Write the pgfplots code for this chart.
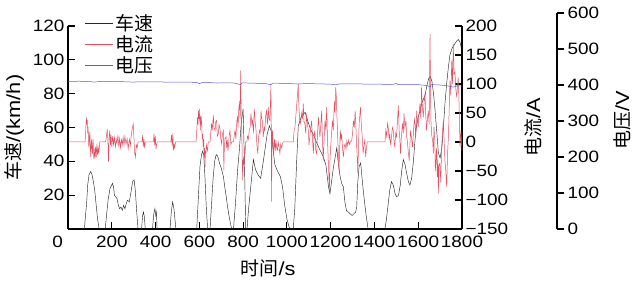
\documentclass[border=0pt]{standalone}
\usepackage{fontspec}
\setmainfont[FakeStretch=1.15]{Liberation Sans}
\newfontfamily\cjk{Noto Sans CJK SC}
\usepackage{pgfplots}
\pgfplotsset{compat=1.18}
\definecolor{curcol}{RGB}{226,80,100}
\definecolor{volcol}{RGB}{90,90,200}
\definecolor{spdcol}{RGB}{40,40,40}
\newcommand{\tickfont}{\fontsize{16.5}{18}\selectfont}
\newcommand{\labfont}{\fontsize{19}{21}\selectfont}
\pgfplotsset{
  common/.style={
    scale only axis,
    axis line style={line width=1.1pt,-},
    tick style={line width=1.1pt,black},
    major tick length=7bp,
    tick label style={font=\tickfont},
    /pgf/number format/assume math mode=true,
  }
}
\begin{document}
\begin{tikzpicture}
\useasboundingbox (0,0) rectangle (636bp,281bp);
% ---------- speed axis ----------
\begin{axis}[common,
  at={(68bp,52bp)}, anchor=south west,
  width=394bp, height=203bp,
  xmin=0, xmax=1800, ymin=0, ymax=120,
  axis x line*=bottom, axis y line*=left,
  tick align=inside,
  xtick={0,200,...,1800},
  xticklabels={\makebox[0pt][r]{0\kern5bp},200,400,600,800,1000,1200,1400,1600,1800},
  xticklabel style={yshift=-3.5bp},
  ytick={20,40,...,120},
  xlabel={{\cjk 时间}/s},
  ylabel={{\cjk 车速}/(km/h)},
  every axis x label/.style={at={(axis description cs:0.508,-0.192)},anchor=center,font=\labfont},
  every axis y label/.style={at={(axis description cs:-0.137,0.5)},rotate=90,anchor=center,font=\labfont},
  legend style={at={(axis description cs:0.035,1.075)}, anchor=north west,
    draw=none, fill=none, font=\cjk\labfont, row sep=-0.5bp,
    /tikz/every even column/.append style={column sep=2bp}},
  legend cell align=left,
  legend image code/.code={\draw[#1] (0bp,0bp) -- (28bp,0bp);},
]
\addplot[spdcol, line width=0.45pt] coordinates {
(0,0)(75,0)(80,8)(85,15)(90,26)(96,32)(104,34)(110,32)(116,28)(122,23)(128,15)(135,6)(142,0)
(170,0)(176,8)(183,17)(192,24)(203,27)(208,25)(212,20)(218,19)(224,18)(230,14)(236,12)(242,13)(248,11)(254,14)(260,12)(266,15)(272,17)(280,16)(288,22)(295,28)(302,29)(308,22)(314,10)(320,0)
(336,0)(341,8)(345,10)(349,7)(353,0)(386,0)(392,9)(397,12)(401,8)(404,10)(407,0)(466,0)(472,10)(478,16)(484,12)(490,4)(493,0)
(588,0)(593,12)(598,25)(603,37)(610,44)(615,46)(620,44)(626,30)(632,12)(638,0)(649,0)(656,15)(663,30)(670,40)(677,44)(684,43)(692,39)(700,36)(710,31)(716,25)(722,20)(728,14)(734,9)(741,4)(748,0)
(756,0)(765,15)(775,35)(783,47)(791,62)(800,71)(806,40)(812,0)(818,0)(825,12)(835,25)(847,41)(857,35)(868,32)(880,30)(890,38)(900,47)(910,56)(920,61)(928,58)(936,48)(945,38)(958,34)(970,31)(980,25)(990,14)(1000,6)(1008,2)(1014,0)
(1029,0)(1036,12)(1044,38)(1052,61)(1065,66)(1083,69)(1095,64)(1108,59)(1120,56)(1136,51)(1150,47)(1165,43)(1178,38)(1190,25)(1197,21)(1204,28)(1212,36)(1220,42)(1228,48)(1234,40)(1242,32)(1250,27)(1258,25)(1265,16)(1272,11)(1280,10)(1289,9)(1298,8)(1306,9)(1314,10)(1319,13)(1324,28)(1330,37)(1337,39)(1345,28)(1352,19)(1362,8)(1371,0)
(1448,0)(1455,6)(1462,14)(1470,23)(1478,28)(1486,26)(1494,21)(1502,19)(1510,20)(1518,26)(1525,35)(1532,41)(1540,38)(1547,33)(1555,28)(1562,26)(1570,30)(1578,40)(1585,52)(1592,61)(1600,66)(1608,70)(1618,75)(1631,79)(1640,85)(1648,89)(1656,90)(1663,87)(1670,80)(1677,70)(1685,57)(1692,45)(1700,42)(1708,48)(1715,60)(1722,74)(1730,86)(1738,96)(1745,103)(1755,107)(1765,109)(1775,111)(1784,112)(1792,110)(1800,105)
};
\addlegendentry{车速}
\addlegendimage{curcol, line width=0.5pt}
\addlegendentry{电流}
\addlegendimage{volcol, line width=0.5pt}
\addlegendentry{电压}
\end{axis}
% ---------- current axis ----------
\begin{axis}[common,
  at={(68bp,52bp)}, anchor=south west,
  width=394bp, height=203bp,
  xmin=0, xmax=1800, ymin=-150, ymax=200,
  axis x line=none, axis y line*=right,
  tick align=inside,
  ytick={-150,-100,...,200},
  yticklabels={−150,−100,−50,0,50,100,150,200},
  ylabel={{\cjk 电流}/A},
  every axis y label/.style={at={(axis description cs:1.18,0.5)},rotate=90,anchor=center,font=\labfont},
]
\addplot[curcol, line width=0.5pt] coordinates {
(0,0)(78,0)(81,20)(84,43)(86,30)(88,38)(90,15)(92,26)(94,-5)(96,-9)(98,10)(100,18)(102,-10)(104,-26)(106,0)(108,3)(110,-15)(112,-20)(114,5)(116,-5)(118,-30)(120,-12)(123,-28)(126,-8)(129,-26)(132,-3)(135,-22)(138,-10)(141,-20)(145,0)
(170,0)(173,3)(176,11)(179,23)(182,5)(185,-34)(188,8)(191,20)(194,-5)(197,12)(200,-8)(204,10)(208,-4)(212,8)(216,-10)(220,5)(224,-3)(228,12)(232,-8)(236,6)(240,-10)(244,4)(248,-5)(252,8)(256,-6)(260,10)(265,-4)(270,6)(275,-12)(280,5)(285,-6)(290,15)(295,26)(298,31)(301,10)(304,-17)(308,-26)(312,-5)(316,-10)(320,0)
(338,0)(341,12)(344,-8)(347,5)(350,-10)(353,0)
(390,0)(393,14)(396,-6)(399,10)(402,-12)(405,-4)(408,0)
(470,0)(473,12)(476,-8)(479,15)(482,-14)(485,-5)(488,-10)(491,0)
(585,0)(588,20)(592,43)(594,30)(596,54)(598,40)(600,57)(602,35)(604,45)(606,20)(608,45)(611,31)(613,5)(615,10)(618,-9)(620,5)(622,-26)(624,-10)(626,-43)(628,-15)(630,-20)(632,-5)(634,-9)(637,-15)(641,0)
(649,0)(652,15)(656,32)(659,20)(664,46)(667,25)(672,20)(675,35)(679,37)(682,10)(687,14)(690,30)(695,22)(698,5)(702,-3)(706,15)(710,20)(712,-49)(714,-14)(717,5)(722,9)(725,-10)(728,3)(731,-15)(733,-8)(736,10)(740,20)(744,-5)(748,0)
(756,0)(759,10)(763,20)(767,5)(770,30)(774,45)(777,25)(780,55)(783,71)(786,40)(789,123)(791,50)(794,20)(796,-30)(798,-66)(801,-25)(804,-40)(807,-10)(809,-20)(812,0)(817,0)
(820,10)(824,5)(828,20)(832,25)(836,49)(840,30)(843,37)(847,15)(851,57)(855,35)(859,20)(863,-5)(867,-20)(870,5)(874,20)(878,15)(882,54)(885,40)(888,37)(892,9)(896,25)(899,20)(903,45)(907,54)(911,30)(915,60)(918,40)(922,37)(925,70)(927,100)(929,10)(930,-103)(932,0)(934,20)(937,-5)(940,-20)(943,5)(947,-15)(950,3)(953,-10)(957,-14)(960,0)(964,-9)(968,-20)(972,-3)(976,-10)(980,-3)(983,0)
(1029,0)(1033,20)(1037,26)(1041,45)(1044,60)(1048,80)(1052,100)(1054,70)(1056,54)(1060,30)(1064,37)(1068,50)(1071,40)(1075,66)(1078,35)(1082,32)(1086,15)(1090,49)(1094,30)(1098,20)(1101,-5)(1105,9)(1109,25)(1113,37)(1117,5)(1121,-20)(1124,10)(1128,20)(1132,-15)(1136,-20)(1140,15)(1144,43)(1148,20)(1151,9)(1155,30)(1159,54)(1162,10)(1166,-32)(1170,5)(1174,37)(1178,20)(1182,60)(1185,10)(1189,-32)(1192,-60)(1194,-89)(1197,-30)(1200,-9)(1204,15)(1208,37)(1212,20)(1217,71)(1220,50)(1223,94)(1226,77)(1229,40)(1232,9)(1235,-20)(1238,-49)(1241,-10)(1244,20)(1247,5)(1250,14)(1254,-10)(1258,-26)(1262,-8)(1266,-3)(1270,-12)(1274,2)(1278,-6)(1282,3)(1286,-4)(1290,0)(1296,2)(1300,15)(1304,37)(1308,25)(1312,54)(1316,20)(1319,-9)(1322,-30)(1324,-54)(1327,-10)(1330,32)(1333,45)(1336,60)(1339,37)(1342,20)(1345,5)(1348,-20)(1352,-5)(1356,3)(1360,-26)(1364,-8)(1367,0)
(1448,0)(1452,20)(1456,10)(1460,32)(1463,25)(1467,5)(1470,14)(1474,-5)(1478,9)(1482,25)(1486,20)(1490,0)(1493,-9)(1497,15)(1501,9)(1505,35)(1509,63)(1513,20)(1516,5)(1519,-20)(1523,10)(1528,32)(1532,15)(1535,49)(1539,25)(1544,37)(1547,10)(1550,3)(1554,-15)(1559,-32)(1562,-5)(1565,20)(1570,5)(1574,-9)(1578,15)(1582,40)(1585,32)(1589,10)(1593,54)(1597,35)(1600,26)(1604,50)(1608,66)(1612,40)(1615,94)(1619,60)(1623,43)(1627,70)(1631,83)(1634,50)(1638,20)(1642,40)(1646,54)(1650,30)(1652,120)(1654,186)(1656,90)(1658,37)(1662,10)(1666,3)(1669,-20)(1672,26)(1676,0)(1678,-50)(1681,-32)(1684,-10)(1687,-60)(1690,-30)(1692,-89)(1695,-40)(1699,-37)(1703,-70)(1707,-9)(1711,20)(1715,37)(1718,5)(1722,-32)(1726,-50)(1730,-77)(1734,-20)(1738,9)(1741,50)(1745,106)(1749,80)(1753,140)(1757,100)(1760,169)(1764,117)(1768,120)(1772,90)(1776,77)(1780,100)(1783,111)(1787,60)(1791,-9)(1795,20)(1800,-15)
};
\end{axis}
% ---------- voltage axis ----------
\begin{axis}[common,
  at={(68bp,52bp)}, anchor=south west,
  width=489bp, height=216bp,
  xmin=0, xmax=2234, ymin=0, ymax=600,
  axis x line=none, axis y line*=right,
  tick align=outside,
  ytick={0,100,...,600},
  ylabel={{\cjk 电压}/V},
  every axis y label/.style={at={(axis description cs:1.133,0.505)},rotate=90,anchor=center,font=\labfont},
]
\addplot[volcol, line width=0.5pt] coordinates {
(0,410)(50,410.5)(100,409.5)(120,408)(150,410)(200,409.5)(260,409)(300,408)(320,409)(400,408.5)(500,408)(560,408)(590,406.5)(600,404)(615,407)(640,407)(680,405.5)(720,406)(760,405.5)(789,401)(795,406)(850,405)(900,404)(927,401)(935,405.5)(1000,404)(1050,403)(1100,404)(1150,403)(1200,402.5)(1223,400.5)(1240,403)(1300,403)(1400,402.5)(1480,401.5)(1500,404)(1510,401)(1600,401)(1640,398.5)(1654,395)(1660,401)(1700,400)(1740,397)(1760,394)(1780,398)(1800,397)
};
\end{axis}
\end{tikzpicture}
\end{document}
